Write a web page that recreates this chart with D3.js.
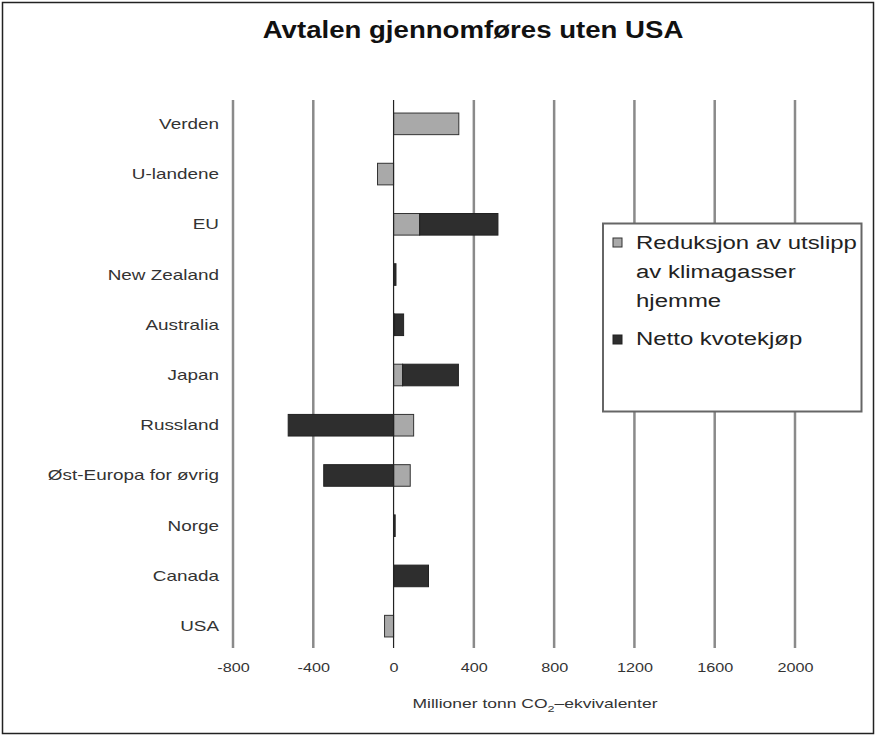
<!DOCTYPE html>
<html><head><meta charset="utf-8">
<script src="https://cdn.jsdelivr.net/npm/d3@7"></script>
<style>body{margin:0;background:#fff;} svg{display:block;font-family:"Liberation Sans",Arial,sans-serif;}</style>
</head><body><svg id="c" width="877" height="737"></svg>
<script>
const categories = ["Verden","U-landene","EU","New Zealand","Australia","Japan","Russland","Øst-Europa for øvrig","Norge","Canada","USA"];
const reduksjon = [325, -80, 130, 0, 5, 45, 100, 83, 0, 0, -45];
const kvotekjop = [0, 0, 390, 12, 45, 278, -525, -348, 8, 174, 0];
const xTicks = [-800, -400, 0, 400, 800, 1200, 1600, 2000];
const seriesNames = ["Reduksjon av utslipp av klimagasser hjemme", "Netto kvotekjøp"];

const svg = d3.select("#c");
svg.append("rect").attr("x",2.5).attr("y",2.5).attr("width",871).attr("height",731).attr("fill","#fff").attr("stroke","#222").attr("stroke-width",1.5);

// helper: horizontally stretched text anchored at (x,y)
function stext(parent, x, y, txt, size, sx, anchor, opts){
  const t = parent.append("text").attr("transform",`translate(${x},${y}) scale(${sx},1)`)
    .attr("text-anchor",anchor||"start").attr("font-size",size).attr("fill",(opts&&opts.fill)||"#333");
  if (opts && opts.bold) t.attr("font-weight","bold");
  if (txt!==null) t.text(txt);
  return t;
}

stext(svg, 473, 38, "Avtalen gjennomføres uten USA", 24, 1.15, "middle", {bold:true, fill:"#111"});

const x = d3.scaleLinear().domain([-800,2000]).range([233,795]);
const y = d3.scaleBand().domain(categories).range([102,648]).paddingInner(0.57).paddingOuter(0.22);

// gridlines
svg.append("g").selectAll("line").data(xTicks.filter(t=>t!==0)).join("line")
  .attr("x1",d=>x(d)).attr("x2",d=>x(d)).attr("y1",100).attr("y2",648)
  .attr("stroke","#8a8a8a").attr("stroke-width",2.5);

// bars
const rows = categories.map((c,i)=>({c, g:reduksjon[i], k:kvotekjop[i]}));
const gBars = svg.append("g");
gBars.selectAll("rect.g").data(rows.filter(d=>d.g!==0)).join("rect").attr("class","g")
  .attr("x",d=>x(Math.min(0,d.g))).attr("width",d=>Math.abs(x(d.g)-x(0)))
  .attr("y",d=>y(d.c)).attr("height",y.bandwidth())
  .attr("fill","#a9a9a9").attr("stroke","#333").attr("stroke-width",1);
gBars.selectAll("rect.k").data(rows.filter(d=>d.k!==0)).join("rect").attr("class","k")
  .attr("x",d=>{const s=(Math.sign(d.k)===Math.sign(d.g))?d.g:0; return x(Math.min(s,s+d.k));})
  .attr("width",d=>Math.abs(x(d.k)-x(0)))
  .attr("y",d=>y(d.c)).attr("height",y.bandwidth())
  .attr("fill","#2e2e2e").attr("stroke","#222").attr("stroke-width",1);

// zero line
svg.append("line").attr("x1",x(0)).attr("x2",x(0)).attr("y1",100).attr("y2",648).attr("stroke","#222").attr("stroke-width",1.2);

// category labels
const cl = svg.append("g");
categories.forEach(c => stext(cl, 219, y(c)+y.bandwidth()/2+5, c, 14, 1.35, "end"));

// x axis labels (via axis scale, then restyled)
const xa = svg.append("g").attr("transform","translate(0,648)")
  .call(d3.axisBottom(x).tickValues(xTicks).tickSize(0).tickPadding(14).tickFormat(d => String(d)));
xa.select(".domain").remove();
xa.selectAll("text").attr("font-size",13.5).attr("fill","#333").attr("font-family","Liberation Sans, Arial, sans-serif")
  .attr("transform","scale(1.2,1)").attr("x", function(d){ return x(d)/1.2 - x(d)/1.2; });
xa.selectAll(".tick text").attr("transform","scale(1.2,1)");

const at = stext(svg, 535, 708, null, 12.5, 1.4, "middle");
at.append("tspan").text("Millioner tonn CO");
at.append("tspan").attr("font-size",9).attr("dy",4).text("2");
at.append("tspan").attr("dy",-4).text("–ekvivalenter");

// legend
const lg = svg.append("g");
lg.append("rect").attr("x",603).attr("y",223.5).attr("width",258.5).attr("height",188).attr("fill","#fff").attr("stroke","#666").attr("stroke-width",2);
lg.append("rect").attr("x",613).attr("y",238).attr("width",9).attr("height",9).attr("fill","#a9a9a9").attr("stroke","#333").attr("stroke-width",1);
lg.append("rect").attr("x",613).attr("y",335).attr("width",9).attr("height",9).attr("fill","#2e2e2e").attr("stroke","#222").attr("stroke-width",1);
const l1 = ["Reduksjon av utslipp","av klimagasser","hjemme"];
l1.forEach((d,i) => stext(lg, 636, 249+i*29, d, 19, 1.26, "start", {fill:"#222"}));
stext(lg, 636, 345, seriesNames[1], 19, 1.26, "start", {fill:"#222"});
</script></body></html>
